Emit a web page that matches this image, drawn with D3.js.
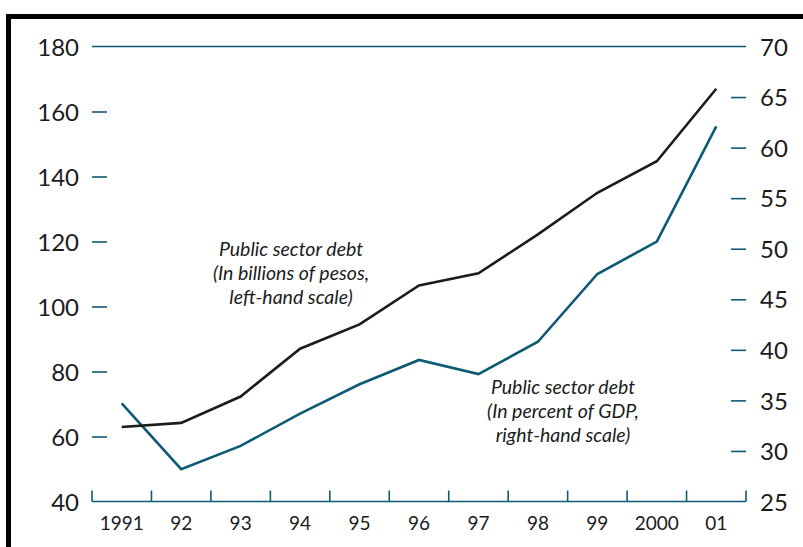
<!DOCTYPE html>
<html>
<head>
<meta charset="utf-8">
<script src="https://cdn.jsdelivr.net/npm/d3@7"></script>
<style>
  html, body { margin: 0; padding: 0; background: #fff; }
  svg { display: block; }
</style>
</head>
<body>
<svg id="chart" width="803" height="547"></svg>
<script>
const years = ["1991", "92", "93", "94", "95", "96", "97", "98", "99", "2000", "01"];
const debtPesos = [62.9, 64.2, 72.3, 87.0, 94.5, 106.5, 110.2, 122.2, 135.0, 144.7, 167.0];
const debtGDP = [34.7, 28.2, 30.5, 33.7, 36.6, 39.0, 37.6, 40.8, 47.5, 50.7, 62.1];
const leftTicks = [40, 60, 80, 100, 120, 140, 160, 180];
const rightTicks = [25, 30, 35, 40, 45, 50, 55, 60, 65, 70];
const labelPesos = ["Public sector debt", "(In billions of pesos,", "left-hand scale)"];
const labelGDP = ["Public sector debt", "(In percent of GDP,", "right-hand scale)"];

const teal = "#0d5a74";
const ink = "#1c1c1c";
const font = "Lato, 'Open Sans', sans-serif";

const svg = d3.select("#chart");

// frame
svg.append("rect")
  .attr("x", 8.5).attr("y", 16.5)
  .attr("width", 820).attr("height", 560)
  .attr("fill", "none").attr("stroke", "#000").attr("stroke-width", 5);

const x0 = 92, x1 = 746, yTop = 46.5, yBot = 501.5;

const x = d3.scaleBand().domain(years).range([x0, x1]).padding(0);
const yL = d3.scaleLinear().domain([40, 180]).range([yBot, yTop]);
const yR = d3.scaleLinear().domain([25, 70]).range([yBot, yTop]);

// top gridline at 180
svg.append("line")
  .attr("x1", x0).attr("x2", x1)
  .attr("y1", yL(180)).attr("y2", yL(180))
  .attr("stroke", teal).attr("stroke-width", 1.6);

// left axis
const gL = svg.append("g").attr("transform", `translate(${x0},0)`)
  .call(d3.axisRight(yL).tickValues(leftTicks.filter(d => d !== 40 && d !== 180)).tickSize(15).tickFormat(""));
gL.select(".domain").remove();
gL.selectAll(".tick line").attr("stroke", teal).attr("stroke-width", 1.6);

const gLl = svg.append("g").attr("transform", `translate(${x0 - 10},0)`)
  .call(d3.axisLeft(yL).tickValues(leftTicks).tickSize(0));
gLl.select(".domain").remove();
gLl.selectAll("text").attr("font-family", font).attr("font-size", 24)
  .attr("fill", ink).attr("dy", "0.36em");

// right axis
const gR = svg.append("g").attr("transform", `translate(${x1},0)`)
  .call(d3.axisLeft(yR).tickValues(rightTicks.filter(d => d !== 25 && d !== 70)).tickSize(15).tickFormat(""));
gR.select(".domain").remove();
gR.selectAll(".tick line").attr("stroke", teal).attr("stroke-width", 1.6);

const gRl = svg.append("g").attr("transform", `translate(${x1 + 11},0)`)
  .call(d3.axisRight(yR).tickValues(rightTicks).tickSize(0));
gRl.select(".domain").remove();
gRl.selectAll("text").attr("font-family", font).attr("font-size", 24)
  .attr("fill", ink).attr("dy", "0.36em");

// bottom axis
svg.append("line")
  .attr("x1", x0).attr("x2", x1)
  .attr("y1", yBot).attr("y2", yBot)
  .attr("stroke", teal).attr("stroke-width", 1.6);
const bounds = years.map(d => x(d)).concat([x1]);
svg.selectAll("line.xt").data(bounds).join("line").attr("class", "xt")
  .attr("x1", d => d).attr("x2", d => d)
  .attr("y1", yBot).attr("y2", yBot - 11)
  .attr("stroke", teal).attr("stroke-width", 1.6);
svg.selectAll("text.xl").data(years).join("text").attr("class", "xl")
  .attr("x", d => x(d) + x.bandwidth() / 2)
  .attr("y", 530)
  .attr("text-anchor", "middle")
  .attr("font-family", font).attr("font-size", 19)
  .attr("fill", ink)
  .text(d => d);

// lines
const cx = (d, i) => x(years[i]) + x.bandwidth() / 2;
svg.append("path")
  .datum(debtGDP)
  .attr("d", d3.line().x(cx).y(d => yR(d)))
  .attr("fill", "none").attr("stroke", teal).attr("stroke-width", 2.6)
  .attr("stroke-linejoin", "miter");
svg.append("path")
  .datum(debtPesos)
  .attr("d", d3.line().x(cx).y(d => yL(d)))
  .attr("fill", "none").attr("stroke", ink).attr("stroke-width", 2.6)
  .attr("stroke-linejoin", "miter");

// annotations
function note(lines, cxp, y0) {
  svg.append("g").selectAll("text").data(lines).join("text")
    .attr("x", cxp).attr("y", (d, i) => y0 + i * 24)
    .attr("text-anchor", "middle")
    .attr("font-family", font).attr("font-style", "italic").attr("font-size", 19.5)
    .attr("fill", ink)
    .text(d => d);
}
note(labelPesos, 291, 256);
note(labelGDP, 563, 394);
</script>
</body>
</html>
